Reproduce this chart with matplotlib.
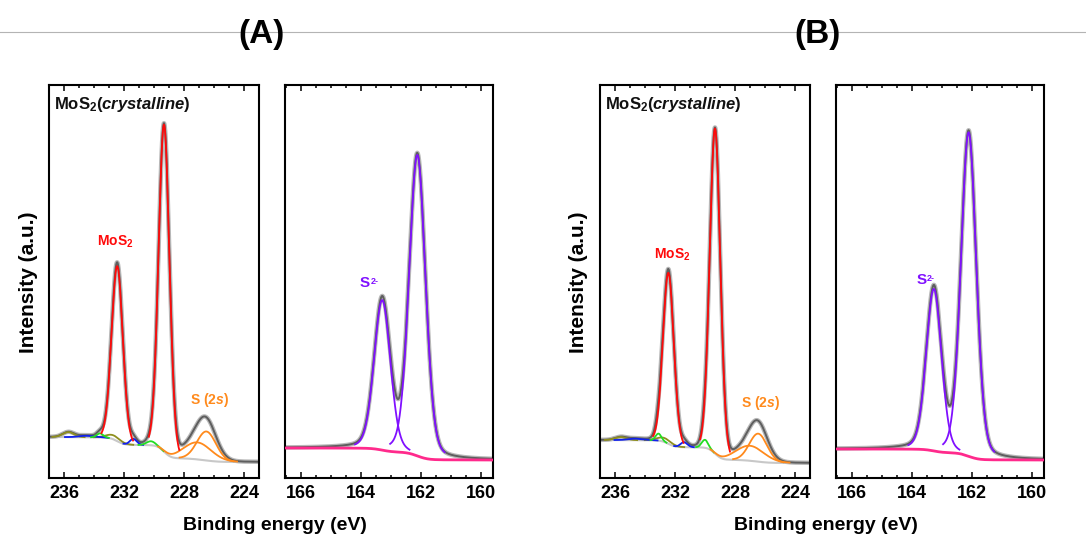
import numpy as np
import matplotlib
matplotlib.use("Agg")
import matplotlib.pyplot as plt
from matplotlib.lines import Line2D
from matplotlib.ticker import MultipleLocator, FixedLocator

plt.rcParams['font.family'] = ['Liberation Sans', 'DejaVu Sans']
plt.rcParams['font.weight'] = 'bold'
plt.rcParams['mathtext.fontset'] = 'custom'
plt.rcParams['mathtext.rm'] = 'Liberation Sans:bold'
plt.rcParams['mathtext.it'] = 'Liberation Sans:italic:bold'
plt.rcParams['mathtext.bf'] = 'Liberation Sans:bold'

# ---------------- data ----------------
panel_letters = ["(A)", "(B)"]
mo_tick_labels = [236, 232, 228, 224]
s_tick_labels = [166, 164, 162, 160]
mo_xlim = (237.0, 223.0)
s_xlim = (166.52, 159.59)
y_top = 393

# Panel A - Mo 3d / S 2s window (background level at high BE, low BE)
A_mo_background = [41, 16]
A_red_pos = [232.45, 229.33]
A_red_height = [175, 327]
A_red_fwhm = [0.88, 0.85]
A_olive_pos = [235.7, 232.7]
A_olive_height = [5, 4]
A_olive_fwhm = [0.9, 1.1]
A_blue_pos = [234.5, 231.38]
A_blue_height = [1.5, 6]
A_blue_fwhm = [1.2, 0.55]
A_green_pos = [233.6, 230.2]
A_green_height = [4, 4]
A_green_fwhm = [0.5, 0.7]
A_orange_pos = [226.5, 227.1]
A_orange_height = [29, 17]
A_orange_fwhm = [1.5, 2.2]
# Panel A - S 2p window
A_s_background = [30, 18]
A_purple_pos = [163.28, 162.11]
A_purple_height = [150, 301]
A_purple_fwhm = [0.64, 0.64]

# Panel B - Mo 3d / S 2s window
B_mo_background = [38, 15]
B_red_pos = [232.44, 229.33]
B_red_height = [171, 325]
B_red_fwhm = [0.85, 0.83]
B_olive_pos = [235.6, 232.7]
B_olive_height = [3, 4]
B_olive_fwhm = [0.9, 1.1]
B_blue_pos = [234.6, 231.4]
B_blue_height = [1.5, 5]
B_blue_fwhm = [1.2, 0.55]
B_green_pos = [233.1, 230.0]
B_green_height = [7, 8]
B_green_fwhm = [0.45, 0.5]
B_orange_pos = [226.45, 227.0]
B_orange_height = [28, 15]
B_orange_fwhm = [1.4, 2.2]
# Panel B - S 2p window
B_s_background = [29, 18]
B_purple_pos = [163.26, 162.1]
B_purple_height = [162, 324]
B_purple_fwhm = [0.6, 0.6]

# label anchors (binding energy, intensity)
A_mos2_label = (232.6, 236)
A_s2s_label = (226.33, 78)
A_s2m_label = (163.85, 195)
B_mos2_label = (232.2, 223)
B_s2s_label = (226.3, 75)
B_s2m_label = (163.68, 198)

# ---------------- styles ----------------
RED = '#ff0a0a'
ORANGE = '#ff8a1c'
PURPLE = '#8010ff'
PINK = '#ff2a8c'
GREEN = '#22dd22'
BLUE = '#1020ee'
OLIVE = '#8f8f1f'
BGGRAY = '#c8c8c8'


def peak(x, c, h, w, eta):
    d = (x - c) / w
    return h * ((1 - eta) * np.exp(-4 * np.log(2) * d ** 2) + eta / (1 + 4 * d ** 2))


def shirley(signal, hi, lo):
    cum = np.cumsum(signal)
    return lo + (hi - lo) * cum / cum[-1]


def draw_panel(ax, x, bg_levels, families, eta, bg_color, bg_lw, bg_z):
    comps = []
    for color, pos, hts, wid in families:
        for c, h, w in zip(pos, hts, wid):
            comps.append((color, h, peak(x, c, h, w, eta)))
    total = np.sum([p for _, _, p in comps], axis=0)
    bg = shirley(total, bg_levels[0], bg_levels[1])
    ax.plot(x, bg + total, color='#b8b8b8', lw=3.2, zorder=2, solid_capstyle='round')
    ax.plot(x, bg + total, color='#5e5e5e', lw=1.4, zorder=2.1)
    ax.plot(x, bg, color=bg_color, lw=bg_lw, zorder=bg_z)
    for color, h, p in comps:
        yv = np.where(p > 0.025 * h, bg + p, np.nan)
        ax.plot(x, yv, color=color, lw=1.3, zorder=4)


def style_axes(ax, xlim, labels, minor):
    ax.set_xlim(xlim)
    ax.set_ylim(0, y_top)
    ax.xaxis.set_major_locator(FixedLocator(labels))
    ax.set_xticklabels([str(t) for t in labels])
    ax.xaxis.set_minor_locator(MultipleLocator(minor))
    ax.set_yticks([])
    ax.tick_params(axis='x', which='both', direction='in', top=True, bottom=True,
                   labelsize=13, width=1.1, pad=5)
    ax.tick_params(axis='x', which='major', length=4.5)
    ax.tick_params(axis='x', which='minor', length=2.4)
    for s in ax.spines.values():
        s.set_linewidth(1.5)


fig = plt.figure(figsize=(10.86, 5.38), dpi=100)
W, H = 1086.0, 538.0


def rect(x0, x1):
    return [x0 / W, (H - 478) / H, (x1 - x0) / W, 393 / H]


# thin slide line behind the panel letters
fig.add_artist(Line2D([0, 1], [1 - 32 / H, 1 - 32 / H], color='#b4b4b4', lw=0.8,
                      transform=fig.transFigure, zorder=0))

x_mo = np.linspace(222.5, 237.5, 3001)
x_s = np.linspace(159.3, 166.8, 3001)

panels = [
    dict(letter=panel_letters[0], off=0,
         mo_bg=A_mo_background,
         mo_fam=[(OLIVE, A_olive_pos, A_olive_height, A_olive_fwhm),
                 (BLUE, A_blue_pos, A_blue_height, A_blue_fwhm),
                 (GREEN, A_green_pos, A_green_height, A_green_fwhm),
                 (ORANGE, A_orange_pos, A_orange_height, A_orange_fwhm),
                 (RED, A_red_pos, A_red_height, A_red_fwhm)],
         s_bg=A_s_background,
         s_fam=[(PURPLE, A_purple_pos, A_purple_height, A_purple_fwhm)],
         mos2=A_mos2_label, s2s=A_s2s_label, s2m=A_s2m_label),
    dict(letter=panel_letters[1], off=551,
         mo_bg=B_mo_background,
         mo_fam=[(OLIVE, B_olive_pos, B_olive_height, B_olive_fwhm),
                 (BLUE, B_blue_pos, B_blue_height, B_blue_fwhm),
                 (GREEN, B_green_pos, B_green_height, B_green_fwhm),
                 (ORANGE, B_orange_pos, B_orange_height, B_orange_fwhm),
                 (RED, B_red_pos, B_red_height, B_red_fwhm)],
         s_bg=B_s_background,
         s_fam=[(PURPLE, B_purple_pos, B_purple_height, B_purple_fwhm)],
         mos2=B_mos2_label, s2s=B_s2s_label, s2m=B_s2m_label),
]

for p in panels:
    o = p['off']
    ax1 = fig.add_axes(rect(49 + o, 259 + o))
    ax2 = fig.add_axes(rect(285 + o, 493 + o))
    draw_panel(ax1, x_mo, p['mo_bg'], p['mo_fam'], 0.05, BGGRAY, 1.5, 1.5)
    draw_panel(ax2, x_s, p['s_bg'], p['s_fam'], 0.2, PINK, 2.0, 3)
    style_axes(ax1, mo_xlim, mo_tick_labels, 1)
    style_axes(ax2, s_xlim, s_tick_labels, 0.5)

    ax1.text(0.025, 0.939, r"MoS$_\mathrm{2}\mathit{(crystalline)}$", transform=ax1.transAxes,
             va='baseline', ha='left', fontsize=12, color='#111111')
    ax1.text(*p['mos2'], r"MoS$_\mathrm{2}$", color=RED, fontsize=10, ha='center', va='center')
    ax1.text(*p['s2s'], r"S ($\mathit{2s}$)", color=ORANGE, fontsize=10, ha='center', va='center')
    ts = ax2.text(*p['s2m'], "S", color=PURPLE, fontsize=11, ha='center', va='center')
    ax2.annotate("2-", xy=(1, 1), xycoords=ts, xytext=(0.6, -0.5), textcoords='offset points',
                 ha='left', va='top', fontsize=6.5, color=PURPLE)

    fig.text((28 + o) / W, 1 - 282 / H, "Intensity (a.u.)", rotation=90, ha='center',
             va='center', fontsize=15)
    fig.text((275 + o) / W, 1 - 525 / H, "Binding energy (eV)", ha='center', va='center',
             fontsize=14)
    fig.text((262 + o + (4 if o else 0)) / W, 1 - 34 / H, p['letter'], ha='center', va='center',
             fontsize=24, zorder=5)

fig.savefig("out.png", dpi=100)
